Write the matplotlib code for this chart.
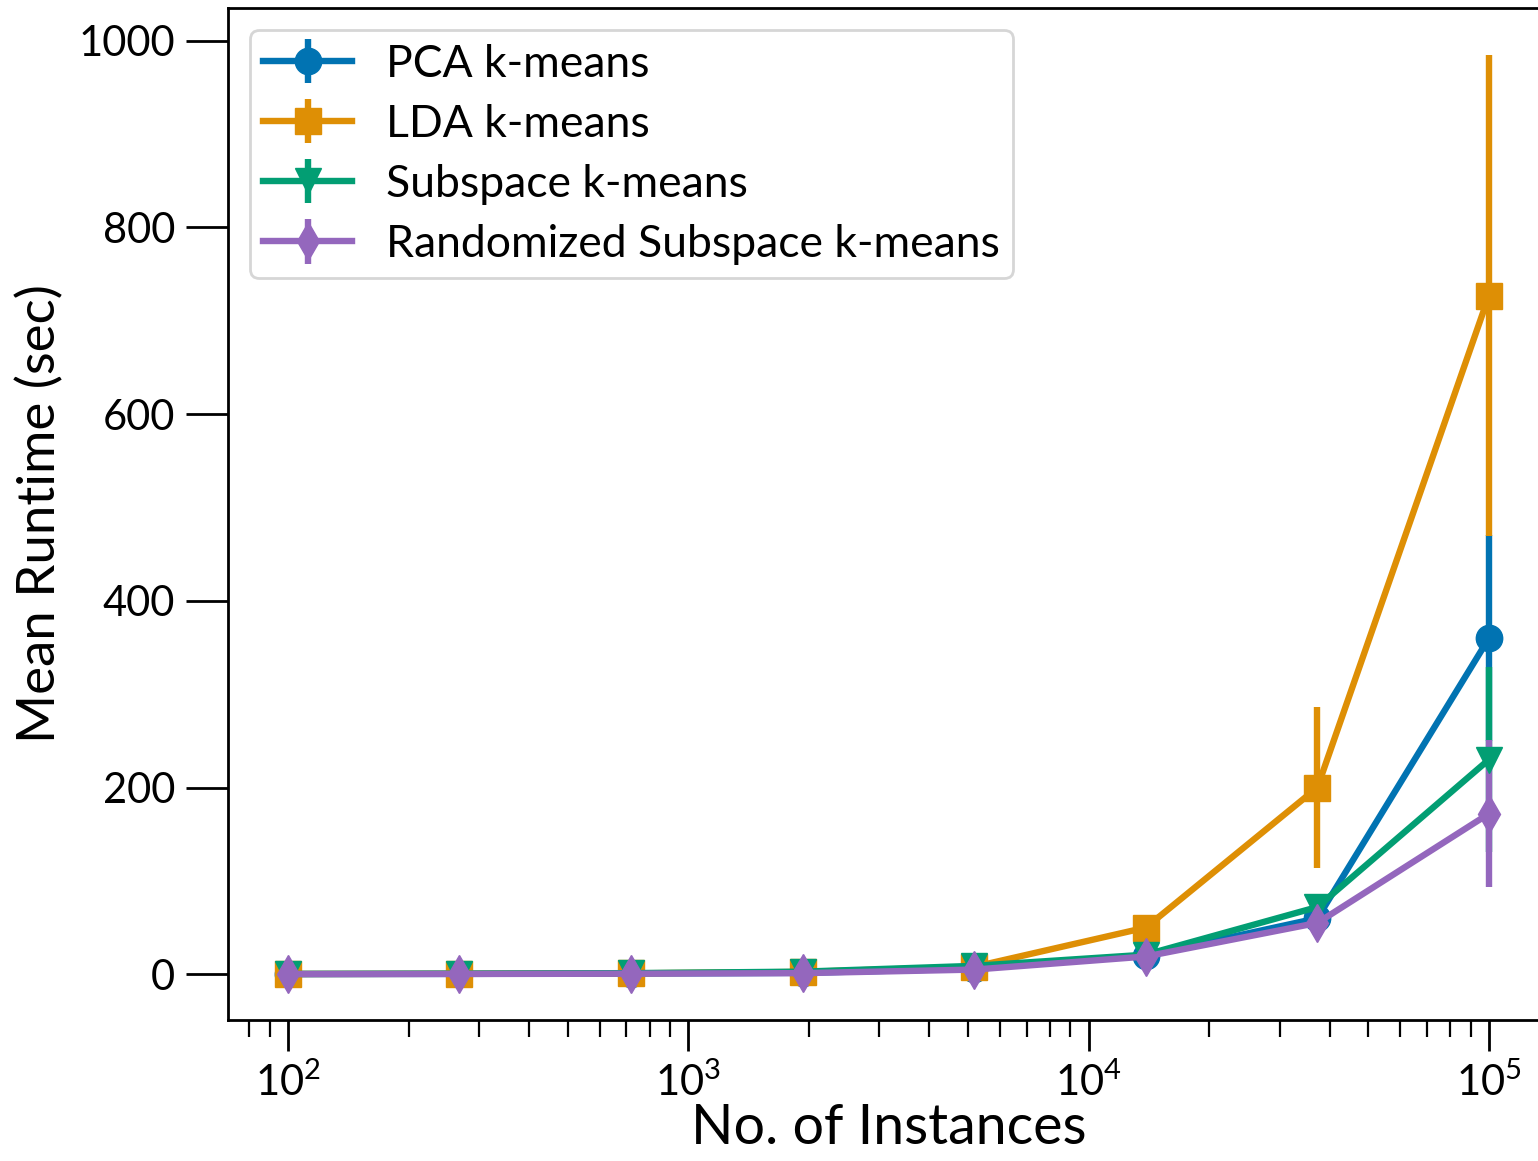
import numpy as np
import matplotlib
matplotlib.use('Agg')
import matplotlib.pyplot as plt

# data
n_inst = [100, 268, 720, 1931, 5179, 13895, 37276, 100000]

pca_mean = [0.2, 0.4, 0.8, 1.5, 6, 20, 60, 360]
pca_err = [0.1, 0.1, 0.2, 0.5, 2, 4, 8, 110]

lda_mean = [0.3, 0.5, 1.0, 2.5, 8, 50, 200, 727]
lda_err = [0.1, 0.1, 0.3, 0.8, 2, 6, 86, 258]

sub_mean = [0.3, 0.6, 1.2, 2.8, 9, 21, 72, 230]
sub_err = [0.1, 0.1, 0.3, 0.8, 2, 5, 10, 99]

rnd_mean = [0.2, 0.3, 0.6, 1.2, 5, 19, 55, 172]
rnd_err = [0.1, 0.1, 0.2, 0.5, 2, 5, 12, 79]

labels = ['PCA k-means', 'LDA k-means', 'Subspace k-means',
          'Randomized Subspace k-means']
colors = ['#0173b2', '#de8f05', '#029e73', '#9467bd']
markers = ['o', 's', 'v', 'd']

plt.rcParams['font.family'] = ['Lato', 'DejaVu Sans']
plt.rcParams['mathtext.fontset'] = 'custom'
plt.rcParams['mathtext.rm'] = 'Lato'
plt.rcParams['mathtext.it'] = 'Lato:italic'

def main():
    fig = plt.figure(figsize=(15.38, 11.61), dpi=100)
    ax = fig.add_axes([228/1538, 1 - 1020/1161, (1549-228)/1538, (1020-8)/1161])

    series = [(pca_mean, pca_err), (lda_mean, lda_err),
              (sub_mean, sub_err), (rnd_mean, rnd_err)]
    for (m, e), lab, c, mk in zip(series, labels, colors, markers):
        ax.errorbar(n_inst, m, yerr=e, color=c, marker=mk, markersize=19,
                    linewidth=4.6, elinewidth=4.6, capsize=0, label=lab)

    ax.set_xscale('log')
    ax.set_xlim(10**1.85, 10**5.15)
    ax.set_ylim(-49, 1035)
    ax.set_yticks([0, 200, 400, 600, 800, 1000])

    ax.tick_params(axis='both', which='major', labelsize=30, width=2, length=22, pad=8)
    ax.tick_params(axis='y', which='major', length=30)
    ax.tick_params(axis='x', which='minor', width=1.6, length=12)
    for s in ax.spines.values():
        s.set_linewidth(2)

    ax.set_xlabel('No. of Instances', fontsize=40, labelpad=0)
    ax.set_ylabel('Mean Runtime (sec)', fontsize=38, labelpad=10)

    leg = ax.legend(loc='upper left', fontsize=32, handlelength=2.0,
                    borderpad=0.3, labelspacing=0.43, handletextpad=0.75,
                    borderaxespad=0, bbox_to_anchor=(0.0167, 0.978))
    leg.get_frame().set_linewidth(2)
    leg.get_frame().set_edgecolor('#cccccc')

    fig.savefig('out.png', dpi=100)
    plt.close(fig)

if __name__ == '__main__':
    main()
